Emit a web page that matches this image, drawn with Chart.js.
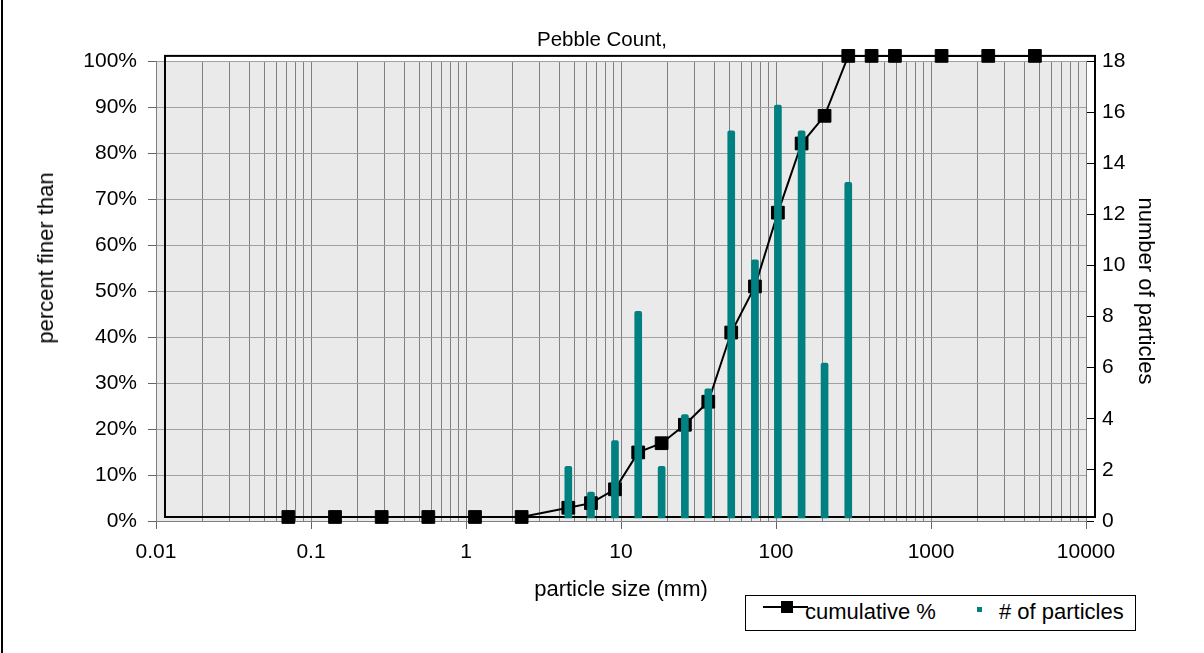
<!DOCTYPE html>
<html>
<head>
<meta charset="utf-8">
<script src="https://cdn.jsdelivr.net/npm/chart.js@4.4.1/dist/chart.umd.min.js"></script>
<style>
  html, body { margin: 0; padding: 0; background: #fff; }
  #wrap { position: relative; width: 1204px; height: 653px; overflow: hidden;
          font-family: "Liberation Sans", Arial, sans-serif; color: #000; }
  #c { position: absolute; left: 0; top: 0; }
  #edge { position: absolute; left: 1px; top: 0; width: 2px; height: 653px; background: #000; }
  #ytitle { position: absolute; left: 46px; top: 258px; transform: translate(-50%, -50%) rotate(-90deg);
            font-size: 22px; line-height: 26px; white-space: nowrap; }
  #legend { position: absolute; left: 745px; top: 595px; width: 389px; height: 34px;
            border: 1px solid #000; background: #fff; font-size: 22px; line-height: 26px; }
  #legend .ln { position: absolute; left: 17px; top: 10px; width: 45px; height: 2px; background: #000; }
  #legend .sq { position: absolute; left: 35px; top: 5px; width: 12px; height: 12px; background: #000; }
  #legend .t1 { position: absolute; left: 59px; top: 3px; white-space: nowrap; }
  #legend .bx { position: absolute; left: 231px; top: 11px; width: 5px; height: 5px; background: #008080; }
  #legend .t2 { position: absolute; left: 253px; top: 3px; white-space: nowrap; }
</style>
</head>
<body>
<div id="wrap">
  <canvas id="c" width="1204" height="653"></canvas>
  <div id="edge"></div>
  <div id="ytitle">percent finer than</div>
  <div id="legend">
    <div class="ln"></div><div class="sq"></div><span class="t1">cumulative %</span>
    <div class="bx"></div><span class="t2"># of particles</span>
  </div>
</div>
<script>
// ---- data ----
const SIZES_MM        = [0.0625, 0.125, 0.25, 0.5, 1, 2, 4, 5.6, 8, 11.3, 16, 22.6, 32, 45, 64, 90, 128, 180, 256, 362, 512, 1024, 2048, 4096];
const CUMULATIVE_PCT  = [0, 0, 0, 0, 0, 0, 2, 3, 6, 14, 16, 20, 25, 40, 50, 66, 81, 87, 100, 100, 100, 100, 100, 100];
const PARTICLE_COUNTS = [0, 0, 0, 0, 0, 0, 2, 1, 3, 8, 2, 4, 5, 15, 10, 16, 15, 6, 13, 0, 0, 0, 0, 0];

const X_TICK_LABELS   = ['0.01', '0.1', '1', '10', '100', '1000', '10000'];
const Y_LEFT_TICKS    = [0, 10, 20, 30, 40, 50, 60, 70, 80, 90, 100];
const Y_RIGHT_TICKS   = [0, 2, 4, 6, 8, 10, 12, 14, 16, 18];

const X_MIN = 0.01, X_MAX = 10000;
// data series sit in an overlay frame slightly offset from the axes (as in the source)
const X_SHIFT_DECADES = 0.058;

// grid values: 1..9 x each decade
const X_GRID = [];
X_TICK_LABELS.slice(0, -1).forEach(lbl => {
  const d = parseFloat(lbl);
  for (let s = 1; s <= 9; s++) X_GRID.push(Math.round(s * d * 1e6) / 1e6);
});
X_GRID.push(parseFloat(X_TICK_LABELS[X_TICK_LABELS.length - 1]));

function xLabel(v) {
  for (const l of X_TICK_LABELS) if (Math.abs(parseFloat(l) - v) < 1e-9 * Math.max(1, v)) return l;
  return '';
}

const FONT = '"Liberation Sans", Arial, sans-serif';
Chart.defaults.font.family = FONT;
Chart.defaults.color = '#000';

const plotBg = {
  id: 'plotBg',
  beforeDraw(chart) {
    const { ctx, chartArea: a } = chart;
    ctx.save();
    ctx.fillStyle = '#EAEAEA';
    ctx.fillRect(a.left, a.top, a.right - a.left, a.bottom - a.top);
    ctx.restore();
  }
};
const dataFrame = {
  id: 'dataFrame',
  beforeDatasetsDraw(chart) {
    const { ctx } = chart;
    const xs = chart.scales.xData, ys = chart.scales.yLine;
    const l = xs.getPixelForValue(X_MIN), r = xs.getPixelForValue(X_MAX);
    const t = ys.getPixelForValue(100), b = ys.getPixelForValue(0);
    ctx.save();
    ctx.strokeStyle = '#000';
    ctx.lineWidth = 2;
    ctx.strokeRect(l, t, r - l, b - t);
    ctx.restore();
  }
};

new Chart(document.getElementById('c'), {
  type: 'line',
  data: {
    datasets: [
      {
        type: 'bar',
        label: '# of particles',
        data: SIZES_MM.map((s, i) => ({ x: s, y: PARTICLE_COUNTS[i] > 0 ? PARTICLE_COUNTS[i] : null })),
        xAxisID: 'xData',
        yAxisID: 'yBar',
        backgroundColor: '#008080',
        borderWidth: 0,
        barThickness: 7,
        borderRadius: 2,
        order: 0
      },
      {
        type: 'line',
        label: 'cumulative %',
        data: SIZES_MM.map((s, i) => ({ x: s, y: CUMULATIVE_PCT[i] })),
        xAxisID: 'xData',
        yAxisID: 'yLine',
        borderColor: '#000',
        borderWidth: 2,
        pointStyle: 'rect',
        pointRadius: 9,
        pointBorderWidth: 1,
        pointBackgroundColor: '#000',
        pointBorderColor: '#000',
        tension: 0,
        clip: false,
        order: 1
      }
    ]
  },
  options: {
    responsive: false,
    devicePixelRatio: 1,
    animation: false,
    layout: { padding: 0 },
    plugins: {
      legend: { display: false },
      tooltip: { enabled: false },
      title: {
        display: true,
        text: 'Pebble Count,',
        font: { size: 20.5, weight: 'normal', family: FONT },
        color: '#000',
        padding: { top: 28.5, bottom: 8 }
      }
    },
    scales: {
      x: {
        type: 'logarithmic', axis: 'x', position: 'bottom',
        min: X_MIN, max: X_MAX, offset: false,
        afterBuildTicks(scale) { scale.ticks = X_GRID.map(v => ({ value: v, major: false })); },
        afterFit(scale) { scale.height = 132; },
        grid: {
          color: '#808080', lineWidth: 1, tickLength: 8, offset: false,
          tickColor: (ctx) => (ctx.tick && xLabel(ctx.tick.value) !== '' ? '#666666' : 'rgba(0,0,0,0)')
        },
        border: { display: true, color: '#808080', width: 1 },
        ticks: { autoSkip: false, maxRotation: 0, minRotation: 0, padding: 11,
                 font: { size: 21 }, color: '#000', callback: (v) => xLabel(v) },
        title: { display: true, text: 'particle size (mm)', font: { size: 22 }, color: '#000',
                 padding: { top: 0, bottom: 50 } }
      },
      y: {
        type: 'linear', axis: 'y', position: 'left', min: 0, max: 100,
        afterBuildTicks(scale) { scale.ticks = Y_LEFT_TICKS.map(v => ({ value: v })); },
        afterFit(scale) { scale.width = 156; },
        grid: { color: '#a0a0a0', lineWidth: 1, tickLength: 8, tickColor: '#666666' },
        border: { display: true, color: '#808080', width: 1 },
        ticks: { padding: 11, font: { size: 21 }, color: '#000', callback: (v) => v + '%' }
      },
      y1: {
        type: 'linear', axis: 'y', position: 'right', min: 0, max: 18,
        afterBuildTicks(scale) { scale.ticks = Y_RIGHT_TICKS.map(v => ({ value: v })); },
        afterFit(scale) { scale.width = 118; },
        grid: { drawOnChartArea: false, tickLength: 8, tickColor: '#000' },
        border: { display: true, color: '#808080', width: 1 },
        ticks: { padding: 8, font: { size: 21 }, color: '#000' },
        title: { display: true, text: 'number of particles', font: { size: 22 }, color: '#000',
                 padding: { top: 46, bottom: 0 } }
      },
      xData: {
        type: 'logarithmic', axis: 'x', display: false, offset: false,
        min: X_MIN / Math.pow(10, X_SHIFT_DECADES),
        max: X_MAX / Math.pow(10, X_SHIFT_DECADES)
      },
      yLine: { type: 'linear', axis: 'y', display: false, min: -0.87, max: 98.87 },
      yBar:  { type: 'linear', axis: 'y', display: false, min: -0.12, max: 17.7 }
    }
  },
  plugins: [plotBg, dataFrame]
});
</script>
</body>
</html>
